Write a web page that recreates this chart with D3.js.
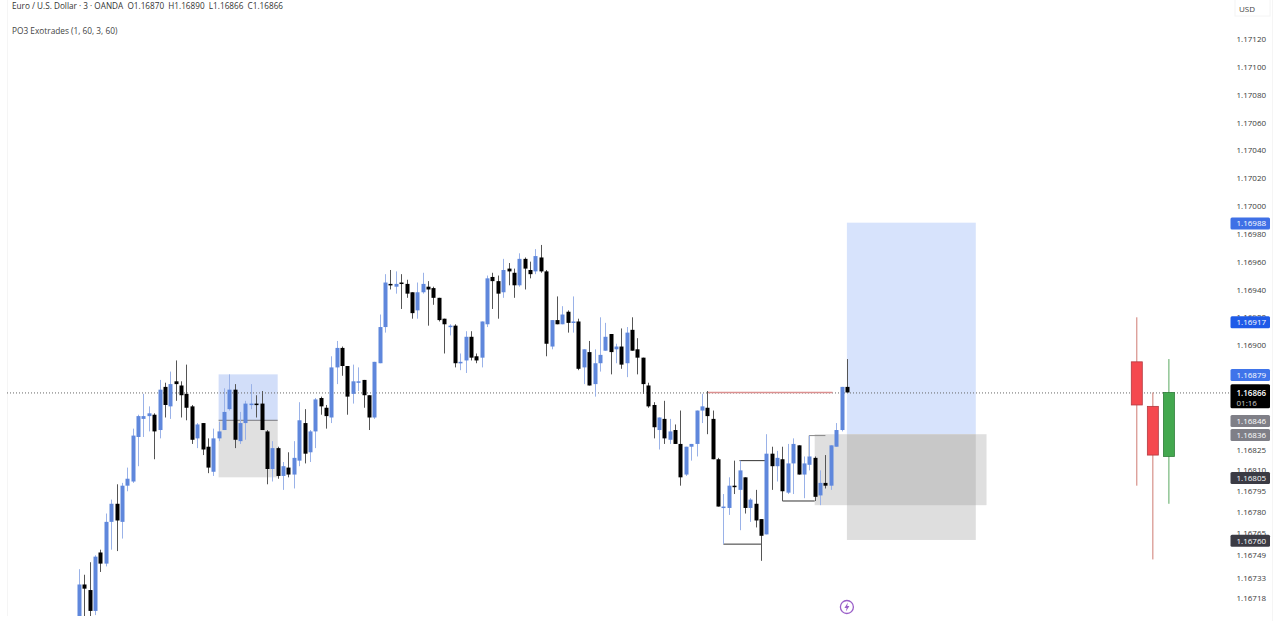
<!DOCTYPE html>
<html><head><meta charset="utf-8">
<script src="https://cdnjs.cloudflare.com/ajax/libs/d3/7.8.5/d3.min.js"></script>
<style>html,body{margin:0;padding:0;background:#fff;overflow:hidden}text{font-family:"Open Sans",sans-serif}</style>
</head><body><svg id="c" width="1280" height="621"></svg>
<script>
// Prices are in 1e-5 units (116870 = 1.16870)
const open=[116698,116728,116724,116709,116751,116743,116773,116786,116773,116799,116802,116834,116847,116849,116850,116839,116870,116856,116874,116871,116865,116856,116833,116844,116827,116809,116833,116839,116854,116868,116831,116844,116857,116858,116858,116838,116811,116826,116806,116812,116807,116817,116844,116823,116838,116862,116855,116848,116884,116898,116885,116865,116873,116875,116864,116848,116887,116913,116944,116942,116945,116944,116938,116925,116938,116942,116941,116934,116919,116913,116914,116888,116889,116906,116892,116891,116915,116949,116946,116938,116955,116952,116943,116962,116954,116953,116963,116953,116899,116918,116915,116924,116916,116917,116884,116895,116872,116887,116896,116908,116897,116899,116887,116911,116897,116891,116871,116857,116839,116847,116832,116839,116829,116807,116827,116829,116853,116855,116847,116818,116783,116783,116799,116796,116805,116783,116786,116775,116764,116822,116813,116818,116794,116815,116828,116807,116814,116819,116792,116801,116799,116827,116839,116870];
const high=[116739,116735,116744,116749,116753,116779,116789,116800,116801,116812,116840,116850,116865,116856,116851,116875,116873,116881,116889,116874,116886,116857,116844,116844,116833,116840,116845,116869,116879,116872,116852,116860,116872,116864,116867,116839,116831,116827,116816,116823,116831,116859,116854,116839,116862,116863,116857,116892,116903,116899,116885,116886,116884,116875,116864,116888,116922,116951,116954,116953,116951,116947,116938,116945,116952,116946,116942,116934,116919,116915,116915,116894,116910,116910,116894,116917,116950,116952,116950,116962,116959,116955,116966,116963,116960,116969,116972,116954,116918,116935,116928,116925,116935,116919,116897,116903,116897,116920,116916,116908,116901,116912,116913,116920,116905,116891,116873,116859,116848,116860,116847,116843,116853,116827,116829,116853,116865,116867,116853,116819,116793,116805,116817,116817,116805,116790,116796,116775,116836,116827,116824,116827,116829,116833,116828,116820,116835,116820,116810,116821,116828,116844,116870,116890];
const low=[116695,116698,116704,116706,116737,116741,116753,116752,116761,116795,116801,116813,116834,116838,116818,116833,116848,116847,116860,116848,116846,116829,116826,116821,116808,116806,116831,116839,116853,116826,116829,116832,116854,116848,116839,116800,116802,116804,116796,116805,116797,116813,116815,116816,116826,116850,116840,116844,116872,116878,116850,116858,116867,116855,116839,116847,116887,116909,116940,116937,116926,116934,116919,116919,116937,116914,116929,116917,116894,116907,116884,116882,116880,116889,116887,116884,116913,116926,116919,116934,116943,116934,116942,116940,116948,116951,116952,116892,116897,116915,116915,116909,116909,116882,116872,116871,116863,116881,116896,116879,116887,116883,116877,116896,116879,116865,116855,116833,116825,116829,116829,116829,116799,116806,116817,116820,116844,116836,116818,116784,116757,116778,116793,116767,116779,116773,116769,116745,116764,116796,116802,116788,116793,116793,116807,116790,116810,116788,116785,116797,116796,116827,116838,116866];
const close=[116728,116725,116709,116748,116743,116773,116786,116774,116799,116804,116835,116849,116849,116851,116838,116868,116857,116872,116872,116864,116855,116832,116843,116825,116812,116833,116838,116852,116868,116832,116844,116858,116858,116857,116839,116811,116826,116806,116813,116807,116819,116846,116822,116838,116861,116856,116849,116884,116898,116885,116863,116874,116874,116864,116848,116888,116913,116945,116943,116944,116944,116937,116923,116938,116944,116940,116934,116918,116915,116914,116887,116888,116906,116891,116889,116917,116948,116946,116937,116954,116953,116943,116962,116955,116951,116964,116953,116901,116918,116915,116922,116916,116917,116883,116897,116871,116887,116893,116906,116895,116899,116886,116909,116896,116891,116872,116856,116841,116848,116833,116838,116829,116805,116827,116829,116853,116856,116849,116818,116784,116784,116799,116798,116810,116783,116789,116774,116763,116822,116813,116819,116795,116815,116829,116807,116815,116820,116791,116801,116799,116828,116839,116870,116866];

const priceTicks=["1.17120","1.17100","1.17080","1.17060","1.17040","1.17020","1.17000","1.16980","1.16960","1.16940","1.16920","1.16900","1.16825","1.16810","1.16795","1.16780","1.16765","1.16749","1.16733","1.16718"];
const priceLabels=[1.16988,1.16917,1.16879,1.16846,1.16836,1.16805,1.16760];
const labelColors=["#3f70e6","#1f5be8","#3f74ea","#7f7f87","#7f7f87","#3b3b44","#3b3b44"];
const lastPrice=1.16866, countdown="01:16";

// zones: [firstBar, lastBar, top price, bottom price]
const zones=[[26,37,116879,116846,"#d2def9"],[26,37,116846,116805,"#e0e0e0"],[143,167,116988,116836,"#d7e3fc"],[143,167,116836,116760,"#dedede"],[137,169,116836,116785,"rgba(150,150,150,.3)"]];
// annotations: [bar1, price1, bar2, price2]
const boxLines=[[120,116757,127,116757],[123,116817,128,116817],[131,116788,137,116788],[136,116835,139,116835],[136,116835,136,116820],[26,116846,37,116846]];
const sweepLine=[117,116866,140.3,116866];
// higher-timeframe candles [open, high, low, close]
const htfOpen=[116888,116856,116820],htfHigh=[116920,116866,116890],htfLow=[116799,116746,116786],htfClose=[116857,116821,116866];
const htfSlots=[0,1,2];

const svg=d3.select("#c");
const P=v=>v/1e5;
const y=d3.scaleLinear().domain([1.17120,1.16718]).range([39,598.4]);
const x=d3.scaleLinear().domain([0,143]).range([79,846.9]);
const xHtf=d3.scaleLinear().domain([0,2]).range([1136.8,1168.9]);

svg.append("defs").append("clipPath").attr("id","pane").append("rect").attr("x",7).attr("y",0).attr("width",1223).attr("height",616);
// frame
svg.append("line").attr("x1",7.5).attr("x2",7.5).attr("y1",0).attr("y2",616).attr("stroke","#f5f5f5");
svg.append("line").attr("x1",1272.5).attr("x2",1272.5).attr("y1",0).attr("y2",621).attr("stroke","#f5f5f5");
svg.append("rect").attr("x",1235).attr("y",-1).attr("width",35).attr("height",17).attr("fill","none").attr("stroke","#f4f4f4");

const pane=svg.append("g").attr("clip-path","url(#pane)");
pane.selectAll("rect.zone").data(zones).join("rect").attr("class","zone")
 .attr("x",d=>x(d[0])).attr("width",d=>x(d[1])-x(d[0]))
 .attr("y",d=>y(P(d[2]))).attr("height",d=>y(P(d[3]))-y(P(d[2]))).attr("fill",d=>d[4]);

pane.append("line").attr("x1",7).attr("x2",1230).attr("y1",y(lastPrice)+.5).attr("y2",y(lastPrice)+.5)
 .attr("stroke","#666").attr("stroke-dasharray","1 2");
pane.append("line").attr("x1",x(sweepLine[0])).attr("x2",x(sweepLine[2])).attr("y1",y(P(sweepLine[1]))).attr("y2",y(P(sweepLine[3])))
 .attr("stroke","#dc9090").attr("stroke-width",1.6);
pane.selectAll("line.box").data(boxLines).join("line").attr("class","box")
 .attr("x1",d=>x(d[0])).attr("y1",d=>y(P(d[1]))).attr("x2",d=>x(d[2])).attr("y2",d=>y(P(d[3])))
 .attr("stroke",(d,i)=>i==5?"#77777d":i==3?"#888":"#333").attr("stroke-width",1);

const up=i=>close[i]>=open[i];
const idx=d3.range(open.length);
pane.selectAll("line.wick").data(idx).join("line").attr("class","wick")
 .attr("x1",i=>Math.round(x(i))+.5).attr("x2",i=>Math.round(x(i))+.5)
 .attr("y1",i=>y(P(high[i]))).attr("y2",i=>y(P(low[i])))
 .attr("stroke",i=>up(i)?"#9ab2e8":"#555").attr("stroke-width",1);
pane.selectAll("rect.body").data(idx).join("rect").attr("class","body")
 .attr("x",i=>Math.round(x(i))-1.5).attr("width",4)
 .attr("y",i=>y(P(Math.max(open[i],close[i]))))
 .attr("height",i=>Math.max(1.5,Math.abs(y(P(open[i]))-y(P(close[i])))))
 .attr("fill",i=>up(i)?"#5f87dc":"#000");

// HTF candles
const hUp=i=>htfClose[i]>=htfOpen[i];
pane.selectAll("line.hw").data(htfSlots).join("line").attr("class","hw")
 .attr("x1",xHtf).attr("x2",xHtf).attr("y1",i=>y(P(htfHigh[i]))).attr("y2",i=>y(P(htfLow[i])))
 .attr("stroke",i=>hUp(i)?"#5aa860":"#cf7b72").attr("stroke-width",1);
pane.selectAll("rect.hb").data(htfSlots).join("rect").attr("class","hb")
 .attr("x",i=>xHtf(i)-5.5).attr("width",11)
 .attr("y",i=>y(P(Math.max(htfOpen[i],htfClose[i]))))
 .attr("height",i=>Math.abs(y(P(htfOpen[i]))-y(P(htfClose[i]))))
 .attr("fill",i=>hUp(i)?"#43a84f":"#f5494f").attr("stroke",i=>hUp(i)?"#2f7d3a":"#b23a40").attr("stroke-width",.8);

// axis
const axis=d3.axisRight(y).tickValues(priceTicks.map(Number)).tickFormat((d,i)=>priceTicks[i]).tickSize(0).tickPadding(0);
const ag=svg.append("g").attr("transform","translate(1236.5,0)").call(axis);
ag.select(".domain").remove();
ag.selectAll("text").attr("font-size",8).attr("fill","#3a3a3a").attr("font-family",'"Open Sans",sans-serif');

svg.selectAll("g.pl").data(priceLabels).join("g").attr("class","pl").attr("transform",d=>`translate(1230.5,${y(d)+.7})`)
 .each(function(d,i){const g=d3.select(this);
  g.append("rect").attr("x",0).attr("y",-6).attr("width",39.5).attr("height",12).attr("rx",1.5).attr("fill",labelColors[i]);
  g.append("text").attr("x",6).attr("y",3).attr("font-size",8).attr("fill","#fff").text(d.toFixed(5));});
const lg=svg.append("g").attr("transform",`translate(1230.5,${y(lastPrice)+.7})`);
lg.append("rect").attr("x",0).attr("y",-9).attr("width",39.5).attr("height",24).attr("rx",1.5).attr("fill","#000");
lg.append("text").attr("x",6).attr("y",3).attr("font-size",8).attr("font-weight",600).attr("fill","#fff").text(lastPrice.toFixed(5));
lg.append("text").attr("x",6).attr("y",12.5).attr("font-size",8).attr("fill","#ccc").text(countdown);

// header
svg.append("text").attr("x",12).attr("y",9).attr("font-size",8.2).attr("fill","#333").attr("xml:space","preserve").text("Euro / U.S. Dollar · 3 · OANDA  O1.16870  H1.16890  L1.16866  C1.16866");
svg.append("text").attr("x",12).attr("y",34).attr("font-size",8.3).attr("fill","#444").text("PO3 Exotrades (1, 60, 3, 60)");
svg.append("text").attr("x",1239).attr("y",12).attr("font-size",8).attr("fill","#444").text("USD");

// bolt marker
const b=svg.append("g").attr("transform",`translate(${x(143)},607)`);
b.append("circle").attr("r",6.5).attr("fill","#fff").attr("stroke","#9a5fc8").attr("stroke-width",1.3);
b.append("path").attr("d","M1,-4.5 L-2.5,1 L-0.3,1 L-1,4.5 L2.5,-1 L0.3,-1 Z").attr("fill","#9a5fc8");
</script></body></html>
